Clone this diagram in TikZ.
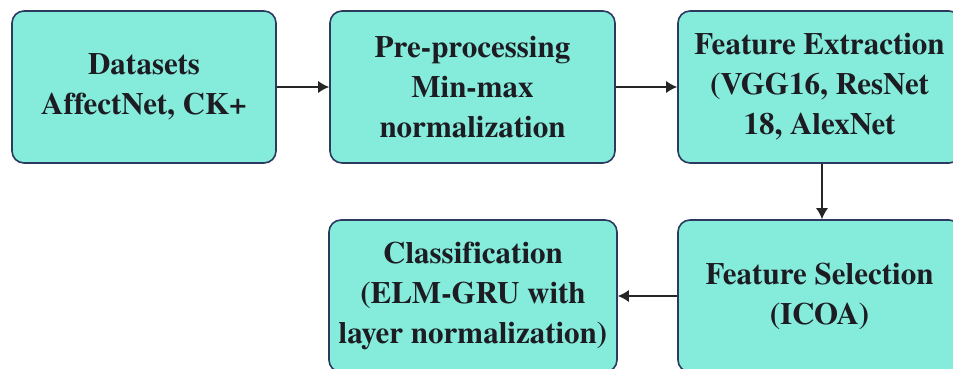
\documentclass[tikz,border=0pt]{standalone}
\usepackage{fontspec}
\newfontfamily\boxfont{texgyretermes-bold.otf}[Ligatures=NoCommon]
\usetikzlibrary{arrows.meta}
\definecolor{boxfill}{HTML}{85EBDB}
\definecolor{boxdraw}{HTML}{2C3A60}
\definecolor{txt}{HTML}{1C1C22}
\tikzset{
  stepbox/.style={rectangle, rounded corners=12pt, draw=boxdraw, fill=boxfill,
    line width=1.6pt, inner sep=0pt, minimum height=152pt, align=center,
    text=txt, font=\boxfont\fontsize{31}{40}\selectfont},
  arr/.style={-{Latex[length=11pt,width=12pt]}, line width=1.4pt, draw=black!85}
}
\begin{document}
\begin{tikzpicture}[x=1pt,y=-1pt]
\fill[white] (0,0) rectangle (953,369);
\useasboundingbox (0,0) rectangle (953,369);
\clip (0,0) rectangle (953,369);
\node[stepbox, minimum width=264pt] (b1) at (144,87) {Datasets\\AffectNet, CK+};
\node[stepbox, minimum width=285pt] (b2) at (472.5,87) {Pre-processing\\Min-max\\normalization};
\node[stepbox, minimum width=283pt] (b3) at (819.5,87) {Feature Extraction\\(VGG16, ResNet\\18, AlexNet};
\node[stepbox, minimum width=288pt] (b4) at (473,296) {Classification\\(ELM-GRU with\\layer normalization)};
\node[stepbox, minimum width=283pt] (b5) at (819.5,296) {Feature Selection\\(ICOA)};
\draw[arr] (b1.east) -- (b2.west);
\draw[arr] (b2.east) -- (b3.west);
\draw[arr] ([xshift=2.5pt]b3.south) -- ([xshift=2.5pt]b3.south |- b5.north);
\draw[arr] (b5.west) -- (b4.east);
\end{tikzpicture}
\end{document}
